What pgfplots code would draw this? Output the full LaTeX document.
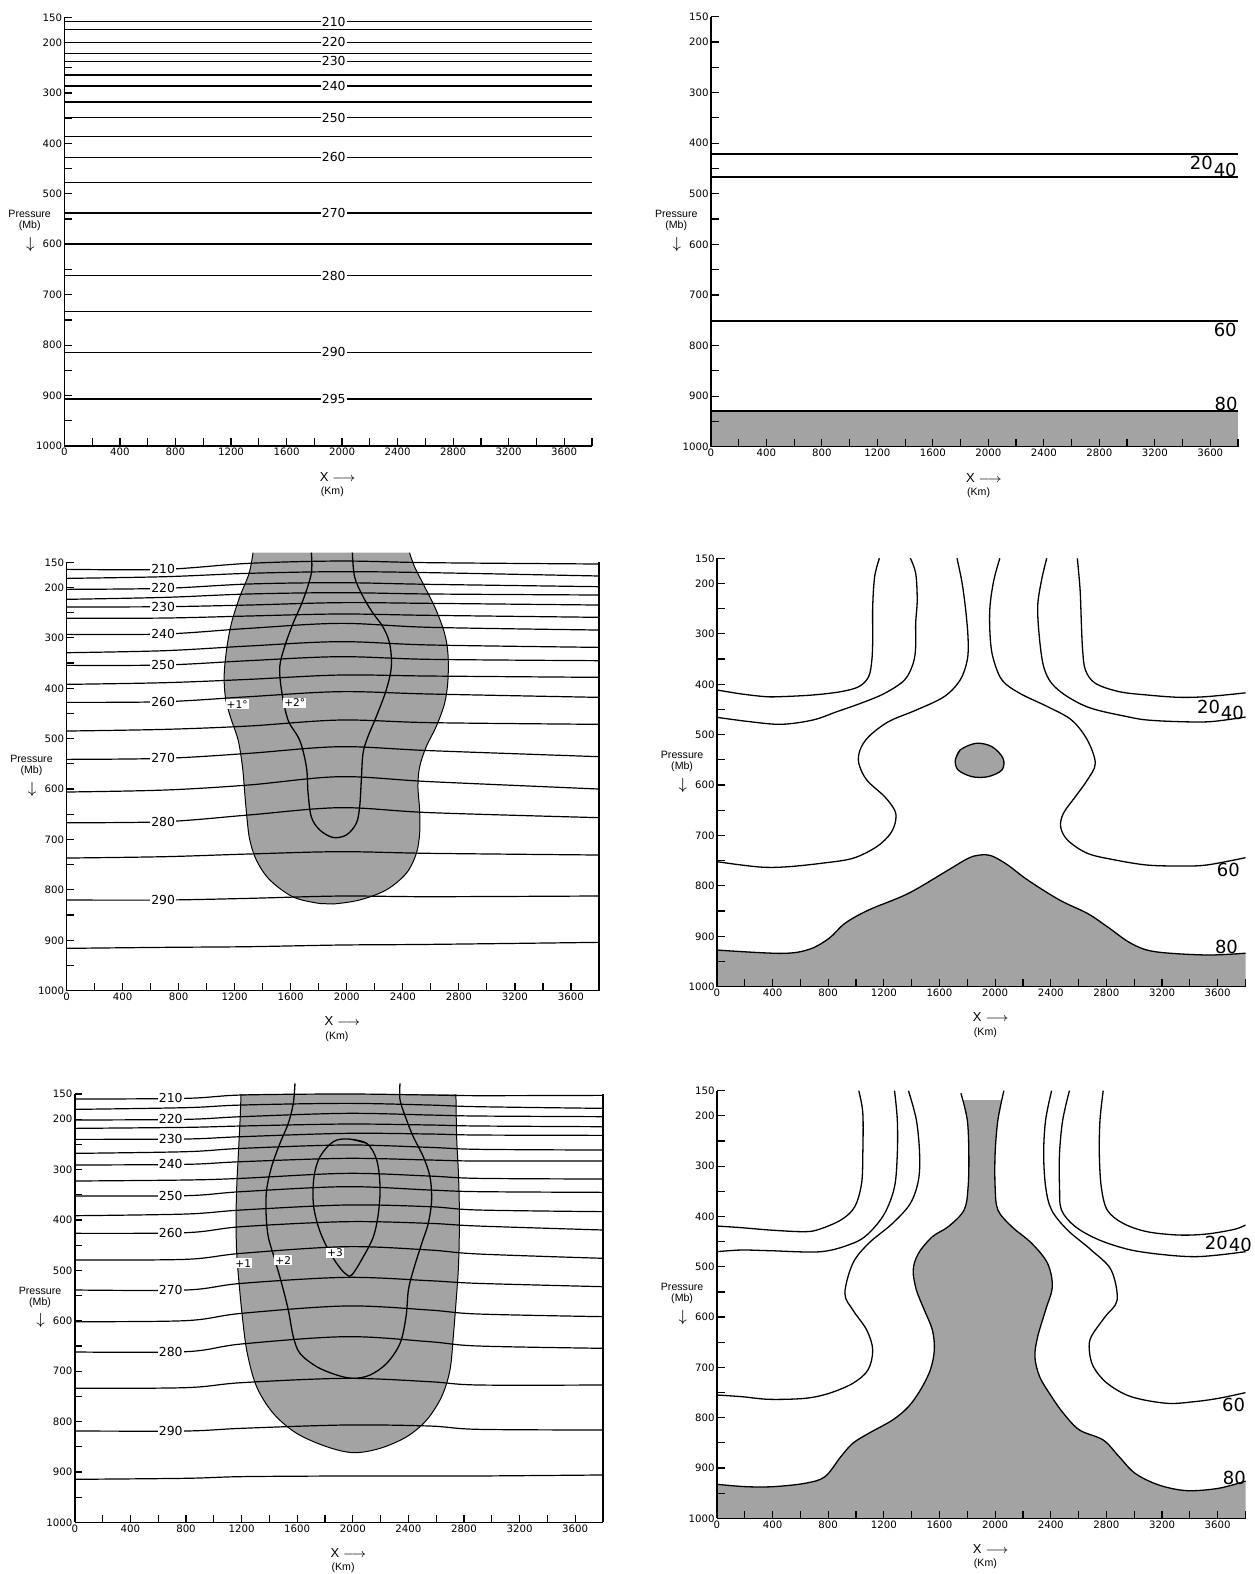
\documentclass[border=0pt]{standalone}
\usepackage{fontspec}
\setmainfont{Liberation Sans}
\newfontfamily\tickfont{DejaVu Sans}
\usepackage{pgfplots}
\usepackage{pgfplotstable}
\pgfplotsset{compat=1.18}
\definecolor{shade}{gray}{0.64}
\pgfplotsset{
  panel/.style={
    scale only axis, anchor=south west,
    y dir=reverse, xmin=0, xmax=3800, ymin=150, ymax=1000,
    axis x line=bottom, axis y line=left,
    axis line style={-, line width=0.75pt},
    xtick={0,400,...,3600}, minor xtick={200,600,...,3800},
    ytick={150,200,300,400,500,600,700,800,900,1000},
    minor ytick={250,350,...,950},
    ytick pos=left,
    tick align=inside,
    major tick length=3.8pt, minor tick length=3.8pt,
    tick style={black, line width=0.6pt},
    tick label style={font=\tickfont\fontsize{5.1}{6}\selectfont, inner sep=1pt},
    /pgf/number format/assume math mode=true,
    /pgf/number format/1000 sep={},
    clip mode=individual,
    axis on top,
  },
  iso/.style={black, line width=0.6pt, smooth, tension=0.55, mark=none},
  cont/.style={black, line width=0.65pt, smooth, tension=0.55, mark=none},
}
\tikzset{
  clab/.style={fill=white, inner sep=0.6pt, font=\tickfont\fontsize{6.2}{7}\selectfont},
  vlab/.style={inner sep=0pt, font=\tickfont\fontsize{9}{10}\selectfont},
  albl/.style={inner sep=0pt, font=\fontsize{5.3}{6}\selectfont},
  dlab/.style={fill=white, inner sep=0.5pt, font=\tickfont\fontsize{5.3}{6}\selectfont},
}
\newcommand{\axlabels}{%
  \node[albl] at (axis cs:-250,540) {Pressure};
  \node[albl] at (axis cs:-250,564) {(Mb)};
  \node[inner sep=0pt, font=\fontsize{8}{8}\selectfont] at (axis cs:-245,600) {$\downarrow$};
  \node[albl, font=\fontsize{6.5}{7}\selectfont] at (axis cs:1970,1061) {X $\longrightarrow$};
  \node[albl] at (axis cs:1930,1091) {(Km)};
}

\pgfplotstableread{
x t210 t215 t220 t225 t230 t235 t240 t245 t250 t255 t260 t265 t270 t275 t280 t285 t290 t295
0 164.0 181.9 203.7 223.5 238.7 261.2 293.0 329.4 354.5 392.2 427.9 484.8 541.0 605.8 666.7 736.8 820.1 916.0
700 164.0 178.6 201.7 219.6 238.1 260.6 292.3 325.4 353.8 388.9 426.6 481.5 539.0 601.9 664.7 734.1 820.1 914.0
1300 152.1 171.9 193.1 212.9 234.8 256.6 281.1 316.1 345.2 382.3 416.7 474.9 529.1 591.9 651.4 728.8 816.8 912.7
1950 147.5 168.6 190.5 210.3 230.1 252.6 271.2 307.5 337.3 373.7 406.7 463.0 515.9 575.4 636.9 724.2 812.2 909.4
2600 150.8 170.6 193.8 212.9 231.5 255.3 279.1 314.1 342.6 375.7 411.4 468.2 523.8 585.3 646.8 727.5 813.5 908.1
3800 153.4 177.2 198.4 214.9 234.8 259.2 284.4 318.8 345.2 378.3 418.0 471.5 535.7 599.9 656.7 730.8 812.1 904.1
}\isoC

\pgfplotstableread{
x t210 t215 t220 t225 t230 t235 t240 t245 t250 t255 t260 t265 t270 t275 t280 t285 t290 t295
0 160.0 180.5 201.6 218.2 240.0 267.8 290.9 322.7 352.4 391.5 426.5 479.5 539.0 601.8 662.0 734.1 818.8 914.7
800 158.6 177.1 200.3 216.2 239.3 264.5 289.6 320.7 351.8 388.2 425.2 478.1 539.0 599.8 661.4 732.8 818.8 912.7
1200 152.0 171.9 195.0 213.5 234.7 257.9 284.3 317.4 343.8 380.2 413.3 466.2 525.8 585.3 646.1 722.9 813.5 909.4
1950 150.0 168.6 188.4 209.6 228.1 251.2 277.7 307.5 333.9 370.3 403.4 453.0 513.9 570.7 631.6 714.3 806.9 908.1
2550 152.0 171.9 191.7 211.5 229.4 255.9 281.0 312.8 340.5 373.6 406.7 459.6 520.5 578.7 641.5 720.9 808.9 908.1
2900 153.3 175.2 193.7 213.5 231.4 259.8 283.0 317.4 343.8 380.2 412.0 467.5 525.8 586.6 650.1 727.5 815.5 908.1
3800 152.7 178.5 195.0 214.9 232.1 261.2 283.0 318.7 345.2 383.5 419.9 476.1 532.4 591.9 654.7 727.5 816.8 906.1
}\isoE

\begin{document}
\begin{tikzpicture}
\useasboundingbox (0,0) rectangle (627pt,787pt);

% ---------------- Panel 1 ----------------
\begin{axis}[panel, at={(32.2pt,564pt)}, width=263.8pt, height=214.35pt]
\pgfplotsinvokeforeach{158.6,174.5,199.6,222,237.2,264.3,286.2,317.9,349,386,427.6,477.8,538,599.4,662.2,733.6,814.2,906.8}{
  \addplot[iso] coordinates {(0,#1) (3800,#1)};
}
\node[clab] at (axis cs:1940,158.6) {210};
\node[clab] at (axis cs:1940,199.6) {220};
\node[clab] at (axis cs:1940,237.2) {230};
\node[clab] at (axis cs:1940,286.2) {240};
\node[clab] at (axis cs:1940,349) {250};
\node[clab] at (axis cs:1940,427.6) {260};
\node[clab] at (axis cs:1940,538) {270};
\node[clab] at (axis cs:1940,662.2) {280};
\node[clab] at (axis cs:1940,814.2) {290};
\node[clab] at (axis cs:1940,906.8) {295};
\axlabels
\end{axis}

% ---------------- Panel 2 ----------------
\begin{axis}[panel, at={(355.45pt,563.65pt)}, width=263.55pt, height=215pt]
\addplot[fill=shade, draw=none] coordinates {(0,929.5) (3800,929.5) (3800,1000) (0,1000)} -- cycle;
\pgfplotsinvokeforeach{421.5,466.9,751.6,929.5}{
  \addplot[iso] coordinates {(0,#1) (3800,#1)};
}
\node[vlab] at (axis cs:3536,440) {20};
\node[vlab] at (axis cs:3708,453) {40};
\node[vlab] at (axis cs:3708,769) {60};
\node[vlab] at (axis cs:3714,916) {80};
\axlabels
\end{axis}

% ---------------- Panel 3 ----------------
\begin{axis}[panel, axis y line=box, ytick pos=left, clip=false, at={(33.25pt,291.65pt)}, width=266.25pt, height=214.2pt]
\addplot[fill=shade, draw=none, smooth, tension=0.55] coordinates {
(1331,131) (1303,172) (1237,218) (1177,271) (1142,324) (1125,377) (1137,423) (1177,463) (1225,503) (1256,556) (1272,608) (1289,661) (1308,701) (1355,741) (1450,780) (1617,814) (1807,827) (1902,828) (2092,820) (2282,800) (2425,767) (2496,728) (2520,688) (2520,642) (2508,595) (2520,556) (2567,516) (2638,476) (2698,430) (2722,384) (2722,331) (2698,291) (2638,245) (2555,198) (2484,159) (2448,131)} -- cycle;
\pgfplotsinvokeforeach{210,215,...,295}{
  \addplot[iso] table[x=x, y=t#1] {\isoC};
}
\addplot[cont, line width=0.5pt] coordinates {
(1331,131) (1303,172) (1237,218) (1177,271) (1142,324) (1125,377) (1137,423) (1177,463) (1225,503) (1256,556) (1272,608) (1289,661) (1308,701) (1355,741) (1450,780) (1617,814) (1807,827) (1902,828) (2092,820) (2282,800) (2425,767) (2496,728) (2520,688) (2520,642) (2508,595) (2520,556) (2567,516) (2638,476) (2698,430) (2722,384) (2722,331) (2698,291) (2638,245) (2555,198) (2484,159) (2448,131)};
\addplot[cont] coordinates {
(1747,131) (1747,172) (1688,225) (1617,271) (1557,317) (1522,357) (1534,403) (1581,463) (1664,503) (1712,556) (1724,608) (1747,655) (1807,681) (1902,696) (1997,691) (2068,668) (2092,635) (2104,582) (2116,529) (2151,496) (2211,456) (2282,403) (2318,357) (2306,311) (2258,278) (2187,251) (2116,218) (2056,179) (2040,131)};
\node[clab] at (axis cs:690,164) {210};
\node[clab] at (axis cs:690,201.7) {220};
\node[clab] at (axis cs:690,238.1) {230};
\node[clab] at (axis cs:690,292.3) {240};
\node[clab] at (axis cs:690,353.8) {250};
\node[clab] at (axis cs:690,426.6) {260};
\node[clab] at (axis cs:690,539) {270};
\node[clab] at (axis cs:690,664.7) {280};
\node[clab] at (axis cs:690,820.1) {290};
\node[dlab] at (axis cs:1218,432) {+1°};
\node[dlab] at (axis cs:1629,429) {+2°};
\axlabels
\end{axis}

% ---------------- Panel 4 ----------------
\begin{axis}[panel, at={(358.45pt,293.65pt)}, width=264.3pt, height=214.2pt]
\addplot[fill=shade, draw=none, smooth, tension=0.55] coordinates {
(-100,927) (0,927.3) (463,933.9) (663,925.9) (806,904.1) (920,874.3) (1091,847.8) (1377,814.8) (1663,768.5) (1806,745.3) (1891,738.7) (1977,740.7) (2091,758.6) (2234,788.3) (2463,828) (2663,854.5) (2806,880.9) (2977,914) (3149,930.5) (3520,937.1) (3800,933.5) (3900,933.5) (3900,1100) (-100,1100)} -- cycle;
\addplot[cont] coordinates {
(0,927.3) (463,933.9) (663,925.9) (806,904.1) (920,874.3) (1091,847.8) (1377,814.8) (1663,768.5) (1806,745.3) (1891,738.7) (1977,740.7) (2091,758.6) (2234,788.3) (2463,828) (2663,854.5) (2806,880.9) (2977,914) (3149,930.5) (3520,937.1) (3800,933.5)};
\addplot[cont, fill=shade] coordinates {
(1714,550.2) (1749,530.3) (1863,517.1) (1977,523.7) (2057,546.9) (2049,570) (1949,583.3) (1834,583.3) (1734,570) (1714,550.2) (1749,530.3)};
\addplot[cont] coordinates {(0,411.3) (177,419.2) (349,424.5) (463,424.5) (691,421.2) (891,414.6) (1020,404.7) (1091,384.8) (1114,351.7) (1120,312.1) (1120,245.9) (1134,186.4) (1168,150)};
\addplot[cont] coordinates {(0,465.5) (234,474.1) (463,479.4) (691,470.8) (863,454.3) (1034,437.7) (1206,417.9) (1349,391.4) (1411,358.4) (1429,325.3) (1429,279) (1440,232.7) (1429,179.8) (1391,150)};
\addplot[cont] coordinates {(0,751.9) (177,758.6) (349,763.2) (520,761.8) (749,755.2) (977,745.3) (1149,722.2) (1249,695.7) (1286,669.3) (1277,649.4) (1206,622.9) (1077,589.9) (1020,556.8) (1029,530.3) (1091,503.9) (1234,474.1) (1434,451) (1634,424.5) (1749,391.4) (1800,351.7) (1806,312.1) (1791,259.1) (1763,199.6) (1726,150)};
\addplot[cont] coordinates {(2034,150) (1991,193) (1963,245.9) (1963,298.8) (1983,345.1) (2049,391.4) (2177,417.9) (2377,444.4) (2549,470.8) (2663,510.5) (2720,556.8) (2663,589.9) (2577,622.9) (2491,656) (2471,682.5) (2520,708.9) (2663,735.4) (2863,748.6) (3091,758.6) (3320,760.5) (3520,758.6) (3800,744)};
\addplot[cont] coordinates {(2371,150) (2334,193) (2306,245.9) (2320,312.1) (2349,365) (2406,398) (2520,424.5) (2691,447.7) (2949,464.2) (3091,470.8) (3320,474.1) (3549,474.1) (3800,465)};
\addplot[cont] coordinates {(2591,150) (2611,212.8) (2620,279) (2629,331.9) (2649,371.6) (2720,398) (2891,414.6) (3091,421.2) (3320,425.8) (3520,424.5) (3800,417)};
\node[vlab] at (axis cs:3534,444) {20};
\node[vlab] at (axis cs:3706,456) {40};
\node[vlab] at (axis cs:3677,768) {60};
\node[vlab] at (axis cs:3663,921) {80};
\axlabels
\end{axis}

% ---------------- Panel 5 ----------------
\begin{axis}[panel, axis y line=box, ytick pos=left, clip=false, at={(37.4pt,25.85pt)}, width=264.1pt, height=214.15pt]
\addplot[fill=shade, draw=none, smooth, tension=0.55] coordinates {
(1196,150) (1189,201.6) (1177,267.8) (1165,333.9) (1160,400.1) (1165,466.2) (1184,532.4) (1208,598.5) (1241,664.7) (1308,730.8) (1428,783.8) (1596,823.4) (1812,849.9) (2004,861.8) (2196,853.2) (2388,830.1) (2531,797) (2639,750.7) (2699,697.8) (2723,631.6) (2742,565.5) (2759,499.3) (2766,433.2) (2766,367) (2759,300.9) (2747,234.7) (2742,150)} -- cycle;
\pgfplotsinvokeforeach{210,215,...,295}{
  \addplot[iso] table[x=x, y=t#1] {\isoE};
}
\addplot[cont, line width=0.5pt] coordinates {
(1196,150) (1189,201.6) (1177,267.8) (1165,333.9) (1160,400.1) (1165,466.2) (1184,532.4) (1208,598.5) (1241,664.7) (1308,730.8) (1428,783.8) (1596,823.4) (1812,849.9) (2004,861.8) (2196,853.2) (2388,830.1) (2531,797) (2639,750.7) (2699,697.8) (2723,631.6) (2742,565.5) (2759,499.3) (2766,433.2) (2766,367) (2759,300.9) (2747,234.7) (2742,150)};
\addplot[cont] coordinates {
(1584,128.9) (1572,168.6) (1536,208.2) (1476,247.9) (1416,294.2) (1380,340.5) (1376,386.8) (1392,433.2) (1440,479.5) (1488,525.8) (1536,578.7) (1572,631.6) (1620,664.7) (1740,691.1) (1884,707.7) (2004,714.3) (2124,707.7) (2244,684.5) (2340,644.8) (2383,591.9) (2400,539) (2436,499.3) (2496,446.4) (2543,406.7) (2567,360.4) (2555,314.1) (2507,274.4) (2435,234.7) (2387,201.6) (2340,161.9) (2340,128.9)};
\addplot[cont] coordinates {
(1968,239.3) (2100,247.9) (2172,281) (2196,333.9) (2184,386.9) (2148,433.2) (2076,472.8) (1992,509.2) (1944,505.9) (1884,486.1) (1812,453) (1752,413.3) (1716,367) (1721,314.1) (1764,274.4) (1860,244.6) (1968,239.3) (2100,247.9)};
\node[clab] at (axis cs:690,158.8) {210};
\node[clab] at (axis cs:690,200.5) {220};
\node[clab] at (axis cs:690,239.4) {230};
\node[clab] at (axis cs:690,289.8) {240};
\node[clab] at (axis cs:690,351.9) {250};
\node[clab] at (axis cs:690,425.4) {260};
\node[clab] at (axis cs:690,539) {270};
\node[clab] at (axis cs:690,661.5) {280};
\node[clab] at (axis cs:690,818.8) {290};
\node[dlab] at (axis cs:1212,486) {+1};
\node[dlab] at (axis cs:1500,480) {+2};
\node[dlab] at (axis cs:1872,465) {+3};
\axlabels
\end{axis}

% ---------------- Panel 6 ----------------
\begin{axis}[panel, at={(358.45pt,27.85pt)}, width=264.3pt, height=213.8pt]
\addplot[fill=shade, draw=none, smooth, tension=0.55] coordinates {
(1772,168.5) (1800,208.3) (1811,274.6) (1806,340.8) (1777,387.2) (1663,420.3) (1549,440.2) (1449,473.3) (1411,506.4) (1434,546.2) (1491,585.9) (1549,625.7) (1563,665.4) (1534,705.2) (1463,744.9) (1377,778.1) (1263,804.6) (1091,831.1) (977,850.9) (891,877.4) (777,917.2) (634,930.4) (406,937.1) (206,937.1) (0,932.4) (-100,932.4) (-100,1100) (3900,1100) (3900,926) (3800,926) (3606,940.4) (3377,945) (3177,933.8) (3006,910.6) (2891,877.4) (2777,844.3) (2606,824.4) (2491,791.3) (2406,758.2) (2320,718.4) (2286,678.7) (2306,638.9) (2363,585.9) (2411,539.6) (2377,493.2) (2263,453.4) (2120,420.3) (2020,387.2) (2000,340.8) (2000,274.6) (2020,208.3) (2048,168.5)} -- cycle;
\addplot[cont] coordinates {(1754,155) (1800,208.3) (1811,274.6) (1806,340.8) (1777,387.2) (1663,420.3) (1549,440.2) (1449,473.3) (1411,506.4) (1434,546.2) (1491,585.9) (1549,625.7) (1563,665.4) (1534,705.2) (1463,744.9) (1377,778.1) (1263,804.6) (1091,831.1) (977,850.9) (891,877.4) (777,917.2) (634,930.4) (406,937.1) (206,937.1) (0,932.4)};
\addplot[cont] coordinates {(2063,150) (2020,208.3) (2000,274.6) (2000,340.8) (2020,387.2) (2120,420.3) (2263,453.4) (2377,493.2) (2411,539.6) (2363,585.9) (2306,638.9) (2286,678.7) (2320,718.4) (2406,758.2) (2491,791.3) (2606,824.4) (2777,844.3) (2891,877.4) (3006,910.6) (3177,933.8) (3377,945) (3606,940.4) (3800,926)};
\addplot[cont] coordinates {(0,419) (177,422.3) (377,426.9) (606,430.2) (720,426.9) (891,407.1) (991,380.6) (1040,334.2) (1049,274.6) (1049,195.1) (1020,150)};
\addplot[cont] coordinates {(0,470) (177,466.7) (377,468) (749,470) (977,453.4) (1091,433.6) (1206,393.8) (1277,340.8) (1297,274.6) (1297,208.3) (1277,150)};
\addplot[cont] coordinates {(0,754.9) (177,758.2) (377,763.5) (634,761.5) (806,751.6) (977,731.7) (1086,705.2) (1120,665.4) (1077,625.7) (977,585.9) (920,552.8) (977,493.2) (1091,453.4) (1263,413.7) (1391,373.9) (1449,327.6) (1457,274.6) (1434,208.3) (1377,150)};
\addplot[cont] coordinates {(2406,150) (2363,208.3) (2349,274.6) (2363,340.8) (2406,387.2) (2520,426.9) (2691,466.7) (2834,506.4) (2877,566.1) (2791,599.2) (2691,638.9) (2677,665.4) (2706,698.6) (2806,731.7) (2977,758.2) (3234,771.4) (3434,768.1) (3606,761.5) (3800,750.2)};
\addplot[cont] coordinates {(2534,150) (2486,208.3) (2463,274.6) (2463,340.8) (2477,387.2) (2577,420.3) (2749,446.8) (2977,466.7) (3234,476.6) (3434,479.9) (3606,476.6) (3800,470)};
\addplot[cont] coordinates {(2777,150) (2754,208.3) (2749,274.6) (2763,340.8) (2806,387.2) (2920,413.7) (3091,430.2) (3320,436.9) (3520,434.9) (3720,425.6) (3800,417)};
\node[vlab] at (axis cs:3591,453) {20};
\node[vlab] at (axis cs:3763,457) {40};
\node[vlab] at (axis cs:3714,775) {60};
\node[vlab] at (axis cs:3720,920) {80};
\axlabels
\end{axis}
\end{tikzpicture}
\end{document}
